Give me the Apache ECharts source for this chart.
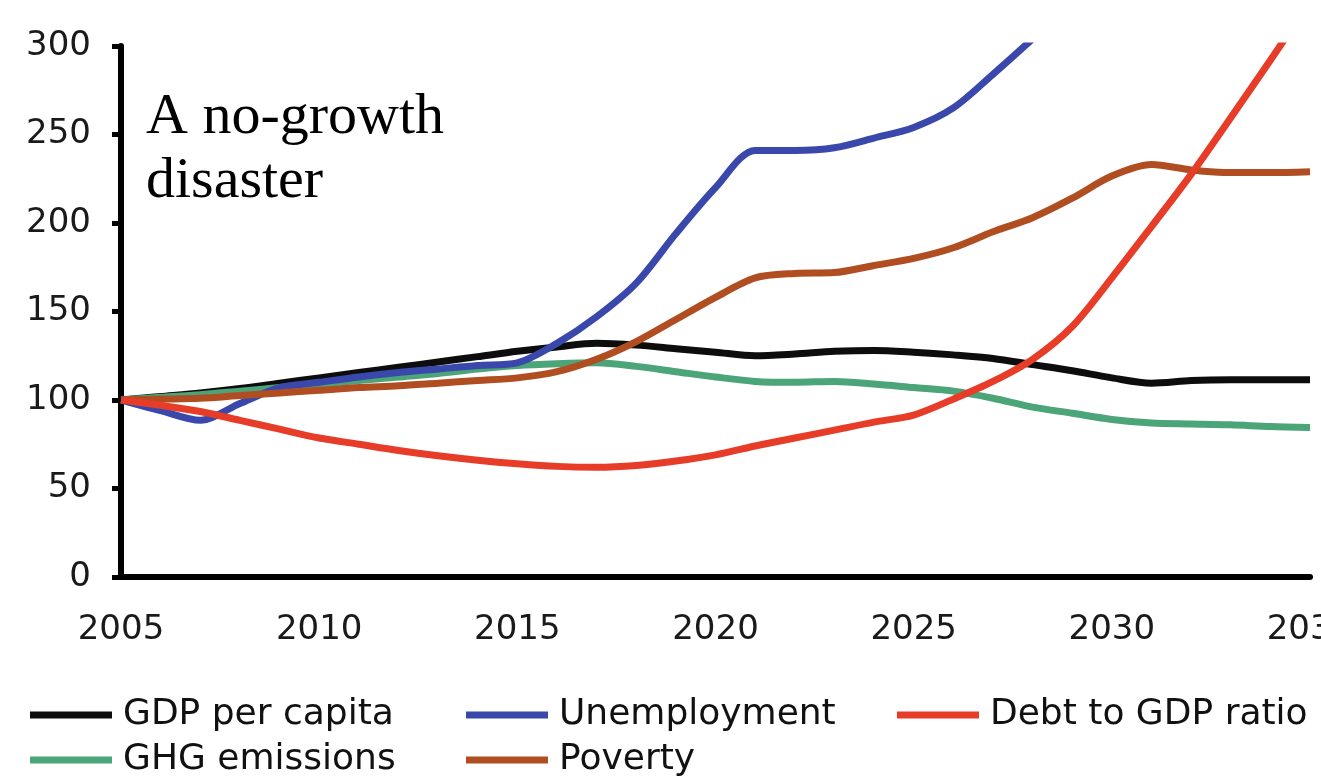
<!DOCTYPE html>
<html>
<head>
<meta charset="utf-8">
<script src="https://cdn.jsdelivr.net/npm/echarts@6/dist/echarts.min.js"></script>
<style>
html,body{margin:0;padding:0;background:#fff;}
#chart{width:1321px;height:783px;}
</style>
</head>
<body>
<div id="chart"></div>
<script>
var years = [2005,2006,2007,2008,2009,2010,2011,2012,2013,2014,2015,2016,2017,2018,2019,2020,2021,2022,2023,2024,2025,2026,2027,2028,2029,2030,2031,2032,2033,2034,2035];
var gdpPerCapita = [100,102,104,106.5,109.5,112.5,115.5,118.5,121.5,124.5,127.5,130,132,131,129,127,125,126,127.5,128,127,125.5,123.5,120,116.5,112.5,109.5,111,111.5,111.5,111.5];
var unemployment = [100,94,88.5,98,107,110,113,115.5,117.5,119.5,121,132,147,166,194,220,241,241,242.5,248,254,265,284,304,null,null,null,null,null,null,null];
var debtToGdp = [100,97,93.5,88.5,83.5,78.5,75,71.5,68.5,66,64,62.5,62,63,65.5,69,74,78.5,83,87.5,91.5,100.5,110.5,123,141.5,169,198,227.5,259.5,292,325];
var ghgEmissions = [100,101.5,103,105,107,109,111,113,115,117.5,119.5,120.5,121,119,116,113,110.5,110,110.5,109,107,105,101,96,92.5,89,87,86.5,86,85,84.5];
var poverty = [100,100.5,101,102.5,104,105.5,107,108,109.5,111,112.5,116,123,133,145.5,158,169,171.5,172,176,180,186,195,203,214,226.5,233,230,228.5,228.5,229];
var yTicks = [0,50,100,150,200,250,300];
var xTicks = [2005,2010,2015,2020,2025,2030,2035];
var seriesNames = ['GDP per capita','Unemployment','Debt to GDP ratio','GHG emissions','Poverty'];
var titleText = 'A no-growth\ndisaster';

var colors = {
  'GDP per capita': '#0d0d0d',
  'Unemployment': '#3a48ab',
  'Debt to GDP ratio': '#e63c28',
  'GHG emissions': '#4ba578',
  'Poverty': '#b04e22'
};

function pairs(arr){ return years.map(function(y,i){ return [y, arr[i]]; }); }

var seriesData = {
  'GDP per capita': gdpPerCapita,
  'Unemployment': unemployment,
  'Debt to GDP ratio': debtToGdp,
  'GHG emissions': ghgEmissions,
  'Poverty': poverty
};
var zOrder = {'GDP per capita':2,'GHG emissions':3,'Unemployment':4,'Poverty':5,'Debt to GDP ratio':6};

var chart = echarts.init(document.getElementById('chart'), null, {renderer:'canvas'});

var legendFont = {fontFamily:'DejaVu Sans', fontSize:36, color:'#111', padding:[0,0,0,6]};
function mkLegend(name, left, top){
  return {
    show:true, left:left, top:top, orient:'horizontal', data:[{name:name, icon:'rect'}],
    itemWidth:82, itemHeight:7, itemGap:0, selectedMode:false,
    textStyle: legendFont
  };
}

var option = {
  animation:false,
  backgroundColor:'#fff',
  grid:{left:121, right:11, top:46, bottom:206, containLabel:false, outerBoundsMode:'none'},
  xAxis:{
    type:'value', min:2005, max:2035, interval:5,
    axisLine:{show:true, onZero:false, lineStyle:{color:'#000', width:6}},
    axisTick:{show:false},
    splitLine:{show:false},
    axisLabel:{margin:36, fontFamily:'DejaVu Sans', fontSize:34, color:'#1a1a1a',
      showMaxLabel:true, hideOverlap:false, formatter:function(v){ return String(v); }}
  },
  yAxis:{
    type:'value', min:0, max:300, interval:50,
    axisLine:{show:true, lineStyle:{color:'#000', width:6}},
    axisTick:{show:true, inside:false, length:9, lineStyle:{color:'#000', width:5}},
    splitLine:{show:false},
    axisLabel:{margin:30, fontFamily:'DejaVu Sans', fontSize:34, color:'#1a1a1a'}
  },
  legend:[
    mkLegend('GDP per capita', 25, 692),
    mkLegend('Unemployment', 461, 692),
    mkLegend('Debt to GDP ratio', 892, 692),
    mkLegend('GHG emissions', 25, 737),
    mkLegend('Poverty', 461, 737)
  ],
  graphic:[{
    type:'text', left:146, top:86, z:100,
    style:{text:titleText, font:'58px "Liberation Serif"', fill:'#000', lineHeight:64}
  }],
  series: seriesNames.map(function(n){
    return {
      name:n, type:'line', data:pairs(seriesData[n]),
      smooth:0.3, showSymbol:false, symbol:'none', clip:true, connectNulls:false,
      z:zOrder[n],
      lineStyle:{color:colors[n], width:7},
      itemStyle:{color:colors[n]}
    };
  })
};
chart.setOption(option);
</script>
</body>
</html>
